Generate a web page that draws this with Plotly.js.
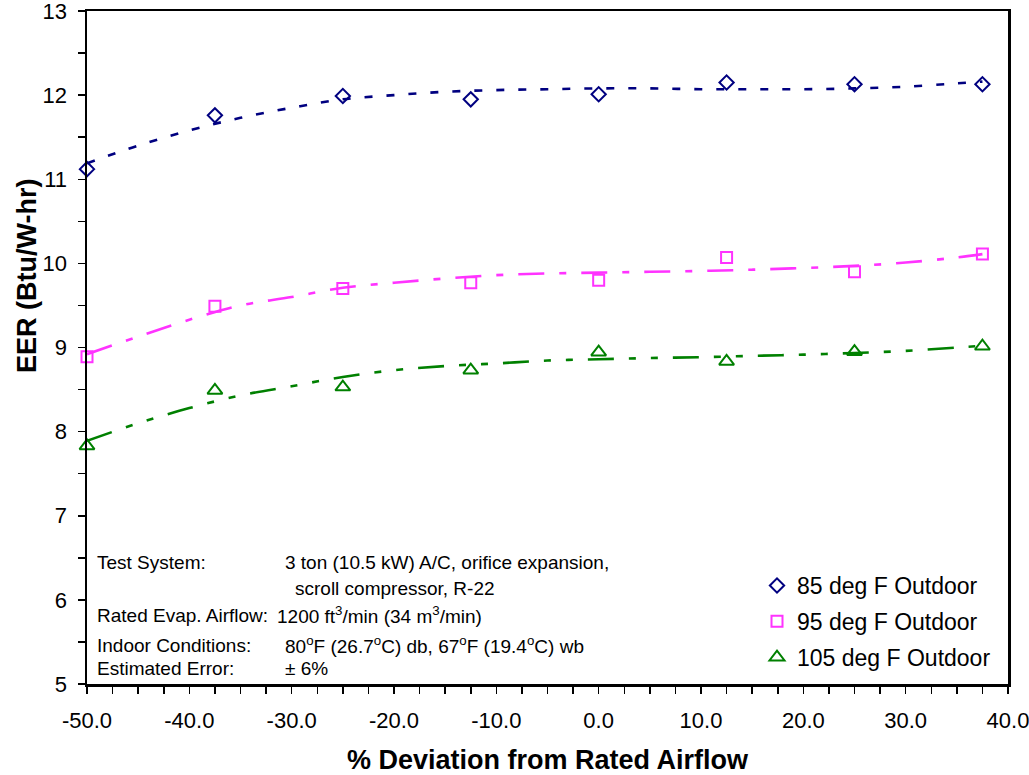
<!DOCTYPE html>
<html>
<head>
<meta charset="utf-8">
<script src="https://cdn.plot.ly/plotly-3.0.1.min.js"></script>
<style>
  html, body { margin: 0; padding: 0; background: #ffffff; }
  #chart { width: 1029px; height: 775px; }
</style>
</head>
<body>
<div id="chart"></div>
<script>
// ---- measured data (percent deviation from rated airflow vs EER) ----
const xPct = [-50, -37.5, -25, -12.5, 0, 12.5, 25, 37.5];
const eer85 = [11.12, 11.76, 11.99, 11.95, 12.01, 12.15, 12.13, 12.13];
const eer95 = [8.89, 9.49, 9.70, 9.77, 9.80, 10.07, 9.90, 10.11];
const eer105 = [7.83, 8.49, 8.53, 8.73, 8.945, 8.835, 8.95, 9.015];

// ---- trend curves ----
const trendX = [-50, -45, -40, -35, -30, -25, -20, -15, -10, -5, 0, 5, 10, 15, 20, 25, 30, 35, 37.5];
const trend85 = [11.19, 11.40, 11.58, 11.73, 11.85, 11.95, 12.00, 12.04, 12.06, 12.07, 12.08, 12.08, 12.07, 12.07, 12.07, 12.08, 12.10, 12.14, 12.16];
const trend95 = [8.92, 9.13, 9.33, 9.50, 9.60, 9.71, 9.77, 9.82, 9.86, 9.88, 9.89, 9.90, 9.91, 9.925, 9.945, 9.97, 10.01, 10.07, 10.11];
const trend105 = [7.89, 8.10, 8.28, 8.43, 8.54, 8.65, 8.73, 8.78, 8.81, 8.845, 8.86, 8.875, 8.885, 8.90, 8.915, 8.935, 8.96, 9.00, 9.02];

const seriesNames = ['85 deg F Outdoor', '95 deg F Outdoor', '105 deg F Outdoor'];
const xTickVals = [-50, -40, -30, -20, -10, 0, 10, 20, 30, 40];
const xTickText = ['-50.0', '-40.0', '-30.0', '-20.0', '-10.0', '0.0', '10.0', '20.0', '30.0', '40.0'];
const yTickVals = [5, 6, 7, 8, 9, 10, 11, 12, 13];
const yTickText = ['5', '6', '7', '8', '9', '10', '11', '12', '13'];

const C85 = '#000080', C95 = '#FF33FF', C105 = '#008000';
const FONT = 'Arial, "Liberation Sans", sans-serif';

const traces = [
  {x: trendX, y: trend85, mode: 'lines', showlegend: false, hoverinfo: 'skip',
   line: {color: C85, width: 2.6, dash: '8px,14px', shape: 'spline'}},
  {x: trendX, y: trend95, mode: 'lines', showlegend: false, hoverinfo: 'skip',
   line: {color: C95, width: 2.6, dash: '26px,15px,7px,15px', shape: 'spline'}},
  {x: trendX, y: trend105, mode: 'lines', showlegend: false, hoverinfo: 'skip',
   line: {color: C105, width: 2.6, dash: '26px,15px,7px,15px,7px,15px', shape: 'spline'}},
  {x: xPct, y: eer85, mode: 'markers', name: seriesNames[0], legendgroup: 'a', cliponaxis: false,
   marker: {symbol: 'diamond-open', size: 11, color: C85, line: {width: 2, color: C85}}},
  {x: xPct, y: eer95, mode: 'markers', name: seriesNames[1], legendgroup: 'b', cliponaxis: false,
   marker: {symbol: 'square-open', size: 11, color: C95, line: {width: 2, color: C95}}},
  {x: xPct, y: eer105, mode: 'markers', name: seriesNames[2], legendgroup: 'c', cliponaxis: false,
   marker: {symbol: 'triangle-up-open', size: 13, color: C105, line: {width: 2, color: C105}}}
];

// plot area in pixels: left 87, right 1008, top 11, bottom 684
const L = 87, R = 1008, T = 11, B = 684;
function px(x) { return (x - L) / (R - L); }
function py(y) { return (B - y) / (B - T); }
function note(text, x, y) {
  return {text: text, xref: 'paper', yref: 'paper', x: px(x), y: py(y),
          xanchor: 'left', yanchor: 'middle', showarrow: false,
          font: {family: FONT, size: 19, color: '#000'}};
}

const layout = {
  width: 1029, height: 775,
  margin: {l: L, r: 1029 - R, t: T, b: 775 - B},
  paper_bgcolor: '#ffffff', plot_bgcolor: '#ffffff',
  font: {family: FONT, color: '#000'},
  showlegend: true,
  legend: {
    x: px(757), y: py(679), xanchor: 'left', yanchor: 'bottom',
    font: {family: FONT, size: 23, color: '#000'},
    bgcolor: 'rgba(0,0,0,0)', borderwidth: 0,
    tracegroupgap: 3, itemwidth: 30, traceorder: 'grouped'
  },
  xaxis: {
    range: [-50, 40], tickmode: 'array', tickvals: xTickVals, ticktext: xTickText,
    ticklabeloverflow: 'allow',
    showgrid: false, zeroline: false,
    showline: true, linecolor: '#000', linewidth: 2.5, mirror: true,
    ticks: 'outside', ticklen: 7, tickwidth: 1.5, tickcolor: '#000',
    minor: {dtick: 2.5, ticks: 'outside', ticklen: 7, tickwidth: 1.5, tickcolor: '#000', showgrid: false},
    tickfont: {family: FONT, size: 22, color: '#000'},
    ticklabelstandoff: 8,
    title: {text: '% Deviation from Rated Airflow', standoff: 24,
            font: {family: FONT, size: 27, color: '#000', weight: 'bold'}}
  },
  yaxis: {
    range: [5, 13], tickmode: 'array', tickvals: yTickVals, ticktext: yTickText,
    ticklabeloverflow: 'allow',
    showgrid: false, zeroline: false,
    showline: true, linecolor: '#000', linewidth: 2.5, mirror: true,
    ticks: 'outside', ticklen: 7, tickwidth: 1.5, tickcolor: '#000',
    minor: {dtick: 0.5, ticks: 'outside', ticklen: 7, tickwidth: 1.5, tickcolor: '#000', showgrid: false},
    tickfont: {family: FONT, size: 22, color: '#000'},
    ticklabelstandoff: 6
  },
  annotations: [
    {text: '<b>EER (Btu/W-hr)</b>', xref: 'paper', yref: 'paper', x: px(27), y: py(276),
     xanchor: 'center', yanchor: 'middle', textangle: -90, showarrow: false,
     font: {family: FONT, size: 27, color: '#000'}},
    note('Test System:', 95, 562),
    note('3 ton (10.5 kW) A/C, orifice expansion,', 283, 562),
    note('scroll compressor, R-22', 293, 588),
    note('Rated Evap. Airflow:', 95, 615),
    note('1200 ft<sup>3</sup>/min (34 m<sup>3</sup>/min)', 275, 615),
    note('Indoor Conditions:', 95, 645),
    note('80<sup>o</sup>F (26.7<sup>o</sup>C) db, 67<sup>o</sup>F (19.4<sup>o</sup>C) wb', 283, 645),
    note('Estimated Error:', 95, 668),
    note('± 6%', 283, 668)
  ]
};

Plotly.newPlot('chart', traces, layout, {displayModeBar: false, staticPlot: true});
</script>
</body>
</html>
